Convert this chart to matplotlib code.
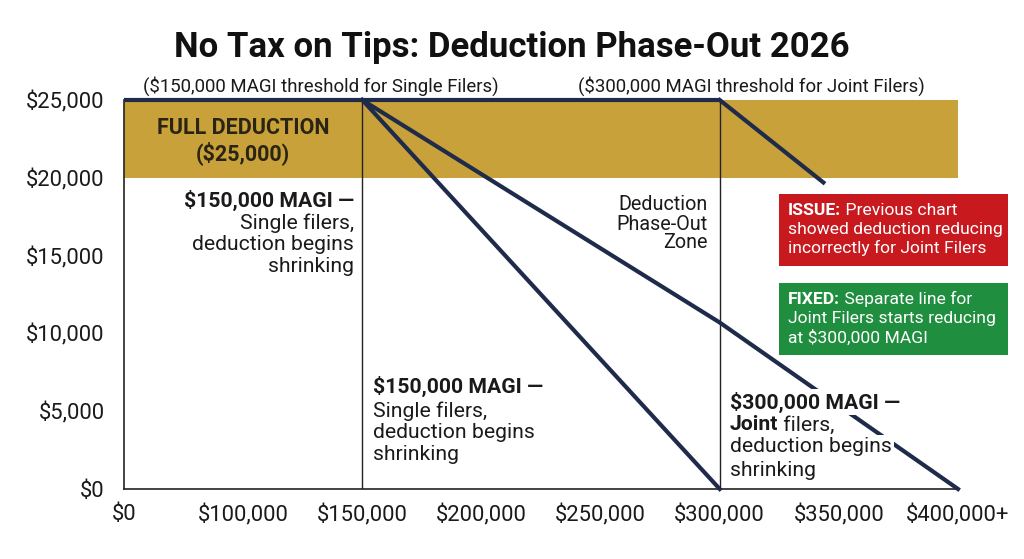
import matplotlib
matplotlib.use("Agg")
import matplotlib.pyplot as plt
from matplotlib.patches import Rectangle
import numpy as np

plt.rcParams['font.family'] = ['Roboto', 'DejaVu Sans']

# x axis is drawn as evenly spaced income steps
tick_values = [0, 100000, 150000, 200000, 250000, 300000, 350000, 400000]
tick_labels = ['$0', '$100,000', '$150,000', '$200,000', '$250,000',
               '$300,000', '$350,000', '$400,000+']
y_ticks = [0, 5000, 10000, 15000, 20000, 25000]
y_labels = ['$0', '$5,000', '$10,000', '$15,000', '$20,000', '$25,000']

# lines (income, deduction)
full_x = [0, 300000]
full_y = [25000, 25000]
single_x = [150000, 300000]
single_y = [25000, 0]
old_joint_x = [150000, 300000, 400000]
old_joint_y = [25000, 10700, 0]
joint_x = [300000, 343500]
joint_y = [25000, 19700]
band_low, band_high = 20000, 25000
thresholds = [150000, 300000]

NAVY = '#1f2b4a'
GOLD = '#c9a13a'
RED = '#c8191f'
GREEN = '#1f8f3f'
TXT = '#1a1a1a'

W, H = 1024, 559


def pos(v):
    return np.interp(v, tick_values, np.arange(len(tick_values)))


def fx(px):
    return px / W


def fy(py):
    return 1 - py / H


def after(prev, s, **kw):
    # put text s right after the text artist prev, on the same line
    return fig.add_artist(plt.Annotation(s, xy=(1, 0.5), xycoords=prev,
                                         ha='left', va='center', **kw))


fig = plt.figure(figsize=(W / 100, H / 100), dpi=100)
ax = fig.add_axes([fx(124), fy(489), (958 - 124) / W, (489 - 100) / H])
ax.set_xlim(0, len(tick_values) - 1)
ax.set_ylim(0, 25000)

# full deduction band
ax.axhspan(band_low, band_high, color=GOLD, lw=0, zorder=1)

# threshold markers
for t in thresholds:
    ax.plot([pos(t), pos(t)], [0, 25000], color='#222222', lw=1.0, zorder=2)

ax.plot(pos(full_x), full_y, color=NAVY, lw=3, zorder=3, clip_on=False,
        solid_capstyle='butt')
ax.plot(pos(single_x), single_y, color=NAVY, lw=3, zorder=3, clip_on=False)
ax.plot(pos(old_joint_x), old_joint_y, color=NAVY, lw=3, zorder=3, clip_on=False)
ax.plot(pos(joint_x), joint_y, color=NAVY, lw=3, zorder=3, clip_on=False)

ax.set_xticks(np.arange(len(tick_values)))
ax.set_xticklabels(tick_labels)
ax.set_yticks(y_ticks)
ax.set_yticklabels(y_labels)
ax.tick_params(axis='x', length=0, pad=11, labelsize=15.8, labelcolor=TXT)
ax.tick_params(axis='y', length=0, pad=14, labelsize=15.8, labelcolor=TXT)
for s in ['top', 'right']:
    ax.spines[s].set_visible(False)
for s in ['left', 'bottom']:
    ax.spines[s].set_color('#222222')
    ax.spines[s].set_linewidth(1.2)

# title and threshold captions
fig.text(0.5, fy(48), 'No Tax on Tips: Deduction Phase-Out 2026', ha='center',
         va='center', fontsize=25, fontweight='bold', color='#111111')
fig.text(fx(321), fy(86), '($150,000 MAGI threshold for Single Filers)',
         ha='center', va='center', fontsize=13.4, color=TXT)
fig.text(fx(751), fy(86), '($300,000 MAGI threshold for Joint Filers)',
         ha='center', va='center', fontsize=13.4, color=TXT)

fig.text(fx(243), fy(141), 'FULL DEDUCTION\n($25,000)', ha='center', va='center',
         fontsize=15.5, fontweight='bold', color='#2a2412', linespacing=1.1,
         zorder=5)

LBL = 15.2
# upper left label (right aligned)
fig.text(fx(354), fy(200), '$150,000 MAGI \u2014', ha='right', va='center',
         fontsize=LBL, fontweight='bold', color=TXT)
fig.text(fx(354), fy(213), 'Single filers,\ndeduction begins\nshrinking',
         ha='right', va='top', fontsize=LBL, color=TXT, linespacing=1.17)

fig.text(fx(708), fy(224), 'Deduction\nPhase-Out\nZone', ha='right', va='center',
         fontsize=14.2, color=TXT, linespacing=1.0)

# lower middle label
fig.text(fx(373), fy(386), '$150,000 MAGI \u2014', ha='left', va='center',
         fontsize=LBL, fontweight='bold', color=TXT)
fig.text(fx(373), fy(401), 'Single filers,\ndeduction begins\nshrinking',
         ha='left', va='top', fontsize=LBL, color=TXT, linespacing=1.17)

# lower right label, each line on white to break the line behind it
wb = dict(facecolor='white', edgecolor='none', pad=1.5)
fig.text(fx(730), fy(402), '$300,000 MAGI \u2014', ha='left', va='center',
         fontsize=LBL, fontweight='bold', color=TXT, bbox=wb, zorder=6)
jt = fig.text(fx(730), fy(425), 'Joint', ha='left', va='center',
              fontsize=LBL, fontweight='bold', color=TXT, bbox=wb, zorder=6)
after(jt, ' filers,', fontsize=LBL, color=TXT, bbox=wb, zorder=6)
fig.text(fx(730), fy(447), 'deduction begins', ha='left', va='center',
         fontsize=LBL, color=TXT, bbox=wb, zorder=6)
fig.text(fx(730), fy(470), 'shrinking', ha='left', va='center',
         fontsize=LBL, color=TXT, bbox=wb, zorder=6)

# issue / fixed boxes
box_w = (1008 - 779) / W
box_h = 72 / H
fig.add_artist(Rectangle((fx(779), fy(266)), box_w, box_h, color=RED, lw=0))
fig.add_artist(Rectangle((fx(779), fy(355)), box_w, box_h, color=GREEN, lw=0))

BOX = 12.6
it = fig.text(fx(788), fy(211), 'ISSUE:', ha='left', va='center', fontsize=BOX,
              fontweight='bold', color='white', zorder=6)
after(it, ' Previous chart', fontsize=BOX, color='white', zorder=6)
fig.text(fx(788), fy(222), 'showed deduction reducing\nincorrectly for Joint Filers',
         ha='left', va='top', fontsize=BOX, color='white', linespacing=1.25,
         zorder=6)

ft = fig.text(fx(788), fy(299), 'FIXED:', ha='left', va='center', fontsize=BOX,
              fontweight='bold', color='white', zorder=6)
after(ft, ' Separate line for', fontsize=BOX, color='white', zorder=6)
fig.text(fx(788), fy(311), 'Joint Filers starts reducing\nat $300,000 MAGI',
         ha='left', va='top', fontsize=BOX, color='white', linespacing=1.25,
         zorder=6)

fig.savefig('out.png', dpi=100)
